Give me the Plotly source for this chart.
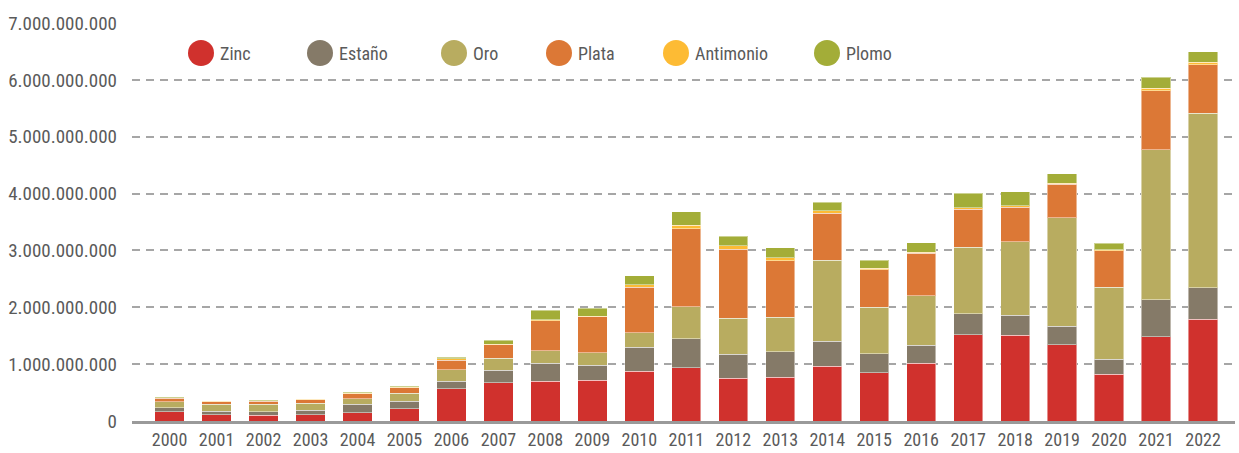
import plotly.graph_objects as go

# Export value by metal, 2000-2022 (USD)
years = [str(y) for y in range(2000, 2023)]

zinc = [0.160e9, 0.110e9, 0.105e9, 0.112e9, 0.147e9, 0.217e9, 0.565e9, 0.673e9,
        0.702e9, 0.720e9, 0.877e9, 0.936e9, 0.754e9, 0.772e9, 0.965e9, 0.848e9,
        1.012e9, 1.521e9, 1.510e9, 1.340e9, 0.825e9, 1.486e9, 1.790e9]
estano = [0.070e9, 0.065e9, 0.060e9, 0.080e9, 0.150e9, 0.133e9, 0.137e9, 0.222e9,
          0.316e9, 0.262e9, 0.421e9, 0.514e9, 0.416e9, 0.445e9, 0.439e9, 0.332e9,
          0.316e9, 0.369e9, 0.350e9, 0.327e9, 0.263e9, 0.644e9, 0.556e9]
oro = [0.110e9, 0.117e9, 0.128e9, 0.117e9, 0.095e9, 0.135e9, 0.198e9, 0.205e9,
       0.222e9, 0.218e9, 0.252e9, 0.562e9, 0.640e9, 0.608e9, 1.426e9, 0.820e9,
       0.877e9, 1.170e9, 1.293e9, 1.907e9, 1.263e9, 2.637e9, 3.070e9]
plata = [0.060e9, 0.047e9, 0.052e9, 0.065e9, 0.087e9, 0.100e9, 0.170e9, 0.240e9,
         0.521e9, 0.632e9, 0.800e9, 1.368e9, 1.210e9, 0.995e9, 0.826e9, 0.660e9,
         0.749e9, 0.666e9, 0.607e9, 0.591e9, 0.644e9, 1.040e9, 0.847e9]
antimonio = [0.010e9, 0.005e9, 0.008e9, 0.008e9, 0.010e9, 0.010e9, 0.025e9, 0.011e9,
             0.023e9, 0.010e9, 0.048e9, 0.065e9, 0.060e9, 0.050e9, 0.041e9, 0.030e9,
             0.016e9, 0.029e9, 0.025e9, 0.015e9, 0.017e9, 0.043e9, 0.047e9]
plomo = [0.012e9, 0.006e9, 0.010e9, 0.010e9, 0.013e9, 0.013e9, 0.023e9, 0.065e9,
         0.163e9, 0.140e9, 0.158e9, 0.235e9, 0.170e9, 0.180e9, 0.153e9, 0.135e9,
         0.165e9, 0.252e9, 0.245e9, 0.170e9, 0.111e9, 0.197e9, 0.188e9]

series_names = ["Zinc", "Estaño", "Oro", "Plata", "Antimonio", "Plomo"]
series_values = [zinc, estano, oro, plata, antimonio, plomo]
series_colors = ["#D0312D", "#857A68", "#B8AC60", "#DC7836", "#FDBB34", "#A3AD38"]

y_ticks = [0, 1e9, 2e9, 3e9, 4e9, 5e9, 6e9, 7e9]

FONT = "Liberation Sans Narrow, Roboto Condensed, Roboto, sans-serif"
TEXT_COLOR = "#5A5A5A"

fig = go.Figure()
for name, vals, color in zip(series_names, series_values, series_colors):
    fig.add_trace(go.Bar(
        x=years, y=vals, name=name,
        marker=dict(color=color, line=dict(color="rgba(255,255,255,0.45)", width=1)),
        showlegend=False,
    ))

# Legend row: circle swatches with labels along the top
legend_px = [201, 320, 454, 559, 676, 827]
legend_py = 53
L, R, T, B = 132, 4, 23, 32
W, H = 1239, 453
pw, ph = W - L - R, H - T - B
for name, color, px in zip(series_names, series_colors, legend_px):
    xp = (px - L) / pw
    yp = (H - B - legend_py) / ph
    fig.add_shape(type="circle", xref="paper", yref="paper",
                  xsizemode="pixel", ysizemode="pixel",
                  xanchor=xp, yanchor=yp, x0=-13, x1=13, y0=-13, y1=13,
                  fillcolor=color, line=dict(width=0))
    fig.add_annotation(x=(px + 17 - L) / pw, y=yp, xref="paper", yref="paper",
                       xanchor="left", yanchor="middle", showarrow=False,
                       text=name, font=dict(family=FONT, size=18, color=TEXT_COLOR))

fig.update_layout(
    barmode="stack",
    bargap=0.376,
    width=W, height=H,
    margin=dict(l=L, r=R, t=T, b=B, pad=0),
    paper_bgcolor="white", plot_bgcolor="white",
    separators=",.",
    font=dict(family=FONT, size=18, color=TEXT_COLOR),
    showlegend=False,
)
fig.update_yaxes(
    range=[0, 7e9], tickvals=y_ticks, tickformat=",.0f",
    showgrid=True, gridcolor="#A6A6A6", gridwidth=2, griddash="8px,6px",
    zeroline=False, showline=False, ticks="", ticklabelstandoff=14,
    tickfont=dict(family=FONT, size=19, color=TEXT_COLOR), automargin=False,
)
fig.update_xaxes(
    type="category", range=[-0.8, 22.68],
    showgrid=False, zeroline=False,
    showline=True, linecolor="#9A9A9A", linewidth=3,
    ticks="", ticklabelstandoff=0,
    tickfont=dict(family=FONT, size=18, color=TEXT_COLOR), automargin=False,
)

fig.write_html("out.html")
